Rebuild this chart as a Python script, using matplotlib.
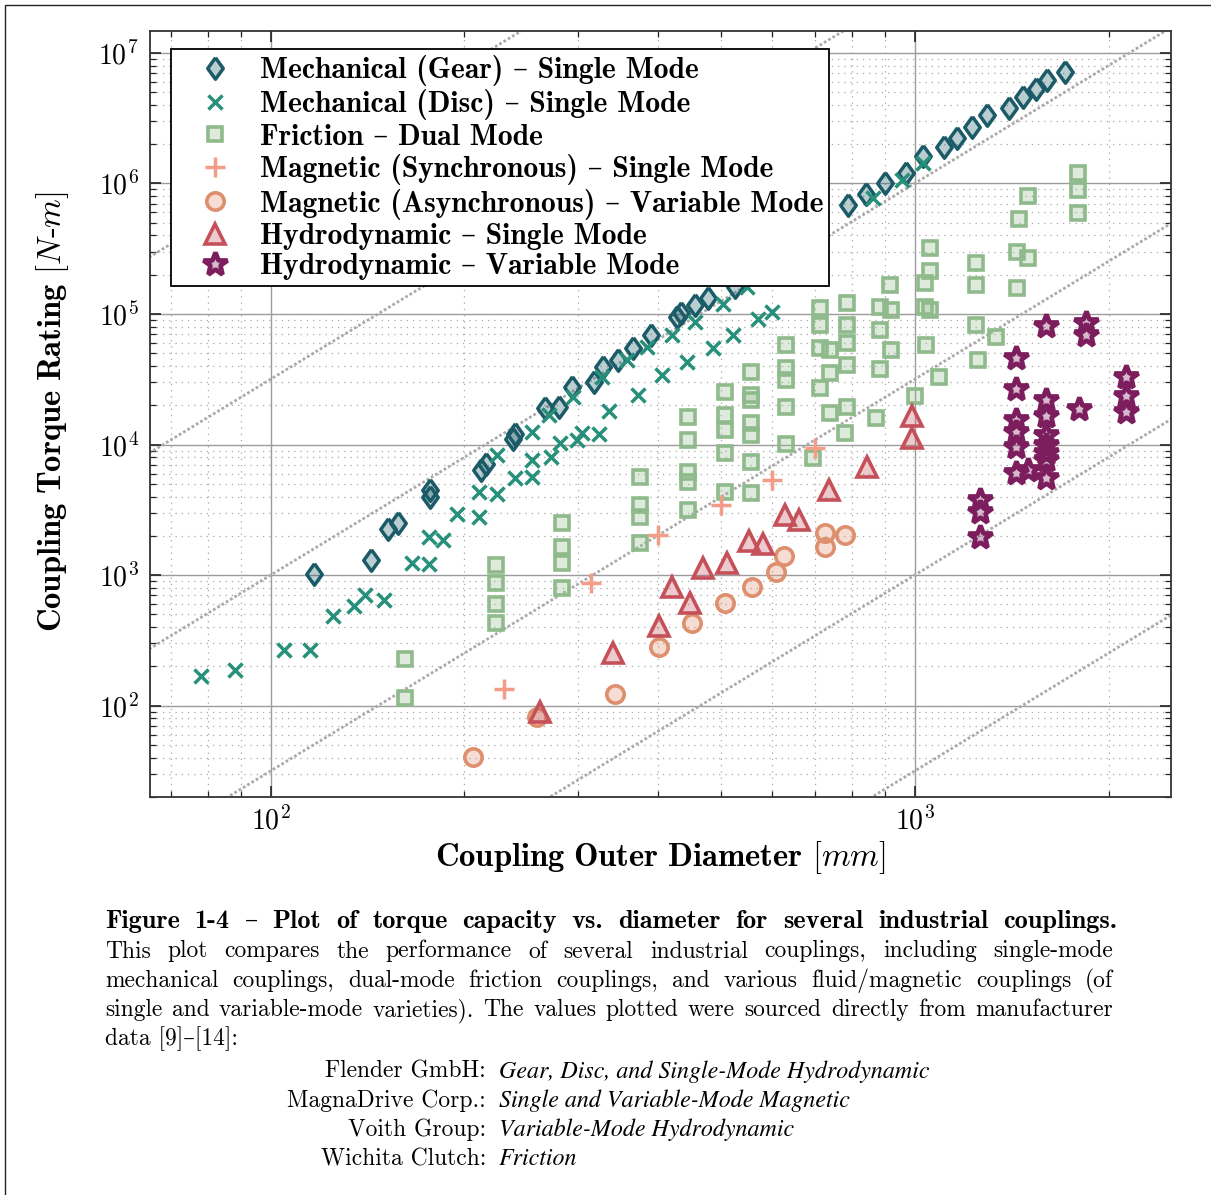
import numpy as np
import matplotlib
matplotlib.use('Agg')
import matplotlib.pyplot as plt
from matplotlib.ticker import LogLocator, FuncFormatter, NullFormatter
from matplotlib.patches import Rectangle
from matplotlib.font_manager import FontProperties
from matplotlib.colors import to_rgb

plt.rcParams['mathtext.fontset'] = 'cm'
plt.rcParams['axes.unicode_minus'] = False
RM = ['cmr10', 'DejaVu Serif']
BF = ['cmb10', 'DejaVu Serif']
IT = ['STIXGeneral', 'DejaVu Serif']

# ─── data: outer diameter [mm] / torque rating [N-m] ─────────────────────────
gear_d = [117, 143, 152, 158, 177, 177, 212, 216, 238, 240, 267, 280, 294, 318,
          328, 346, 366, 390, 427, 434, 456, 478, 526, 787, 839, 898, 968, 1029,
          1109, 1162, 1226, 1293, 1399, 1471, 1541, 1603, 1709]
gear_t = [1020, 1310, 2250, 2500, 4000, 4450, 6400, 7100, 11000, 12000, 19100,
          19500, 27800, 30300, 39100, 44400, 54600, 69100, 95400, 101000, 117000,
          132000, 162000, 683000, 830000, 1.01e6, 1.2e6, 1.62e6, 1.9e6, 2.23e6,
          2.7e6, 3.34e6, 3.78e6, 4.59e6, 5.28e6, 6.19e6, 7.13e6]

disc_d = [78, 88, 105, 115, 125, 135, 140, 150, 166, 176, 176, 185, 195, 211, 211,
          225, 225, 240, 255, 255, 255, 273, 271, 281, 299, 305, 324, 335, 295, 327,
          357, 384, 372, 406, 420, 443, 456, 486, 522, 504, 571, 600, 549, 861, 955,
          1029]
disc_t = [169, 188, 268, 268, 487, 581, 705, 646, 1240, 1220, 1960, 1860, 2940,
          2790, 4340, 4180, 8330, 5550, 5650, 7620, 12490, 8040, 16850, 10290,
          10840, 12270, 12060, 18080, 23150, 32930, 44440, 55880, 23980, 34110,
          69050, 42900, 86840, 54920, 69050, 119300, 91560, 103600, 160900, 773200,
          1.062e6, 1.433e6]

fric_d = [162, 162, 224, 224, 224, 224, 283, 283, 283, 283, 374, 374, 374, 374,
          445, 445, 445, 445, 445, 507, 507, 507, 507, 507,
          558, 558, 558, 558, 558, 558, 558, 632, 632, 632, 632, 632, 695,
          712, 712, 712, 738, 738, 712, 738, 779, 786, 786, 786, 786, 786,
          882, 920, 882, 920, 882, 872, 1043, 1091, 1000, 1247, 1339, 1254,
          1036, 1055, 1792, 1792, 1792, 1499, 1450, 1055, 1055, 1036, 1247, 1247,
          1440, 1499, 917, 1440]
fric_t = [227, 114, 1200, 876, 602, 433, 2500, 1650, 1250, 794, 5680, 3450, 2810,
          1760, 16400, 10800, 6200, 5200, 3160, 25400, 16900, 12900, 8580, 4360,
          36100, 24000, 22000, 14600, 11800, 7400, 4240, 57900, 38400, 31200, 19500,
          10100, 7860, 110600, 82400, 54600, 53000, 35200, 27000, 17400, 12200,
          122000, 82400, 59700, 40700, 19500, 113700, 107300, 75400, 53000, 37700,
          15900, 57900, 32800, 23600, 82400, 66300, 44400, 113700, 107300,
          1.195e6, 890000, 597000, 801000, 531000, 318500, 214500, 171900, 244500,
          166700, 299900, 267000, 166700, 158200]

sync_d = [230, 314, 400, 500, 600, 700]
sync_t = [135, 876, 2030, 3450, 5360, 9370]

async_d = [206, 259, 343, 401, 451, 508, 559, 610, 626, 727, 727, 779]
async_t = [40.6, 82, 122, 283, 428, 609, 808, 1050, 1390, 1650, 2090, 2030]

hsing_d = [262, 340, 401, 420, 448, 469, 512, 553, 582, 629, 661, 736, 842, 992, 992]
hsing_t = [90, 252, 408, 817, 609, 1130, 1230, 1840, 1730, 2890, 2650, 4490, 6770,
           16560, 11170]

hvar_d = [1601, 1843, 1843, 1439, 1439, 1601, 1601, 1799, 2126, 2126, 2126, 1439,
          1439, 1439, 1601, 1601, 1601, 1601, 1439, 1499, 1601, 1261, 1261, 1261]
hvar_t = [80900, 84900, 69000, 45800, 26500, 21950, 16560, 18640, 32760, 23560,
          17860, 15430, 12550, 9640, 11840, 9930, 8580, 7620, 6030, 6390, 5520,
          3770, 3060, 1970]

labels = ['Mechanical (Gear) – Single Mode',
          'Mechanical (Disc) – Single Mode',
          'Friction – Dual Mode',
          'Magnetic (Synchronous) – Single Mode',
          'Magnetic (Asynchronous) – Variable Mode',
          'Hydrodynamic – Single Mode',
          'Hydrodynamic – Variable Mode']

# torque at D = 100 mm for the D^3 guide lines
guide_t100 = [1e6, 10**4.5, 1e3, 10**1.5, 1.0, 10**-1.5]

# ─── styles ───────────────────────────────────────────────────────────────────
wide_diamond = [(0, 1), (0.72, 0), (0, -1), (-0.72, 0), (0, 1)]
series = [
    (gear_d, gear_t, wide_diamond, '#1b5a67', 15.5, 2.5),
    (disc_d, disc_t, 'x', '#26907a', 10.5, 2.5),
    (fric_d, fric_t, 's', '#8fba8c', 10.0, 2.6),
    (sync_d, sync_t, '+', '#f39c87', 14.0, 2.5),
    (async_d, async_t, 'o', '#de8f6e', 12.5, 2.6),
    (hsing_d, hsing_t, '^', '#c5505a', 14.5, 2.6),
    (hvar_d, hvar_t, '*', '#7c1d5d', 18.0, 3.4),
]

W, H = 1211, 1195
fig = plt.figure(figsize=(W / 100, H / 100), dpi=100)
fig.patch.set_facecolor('white')
ax = fig.add_axes([150 / W, 1 - 797 / H, 1021 / W, 766 / H])
ax.set_xscale('log')
ax.set_yscale('log')
ax.set_xlim(65, 2500)
ax.set_ylim(20, 1.47e7)

ax.grid(True, which='major', color='#9c9c9c', lw=1.0, ls='-', zorder=0)
ax.grid(True, which='minor', color='#a8a8a8', lw=0.9, ls=(0, (1, 4)), zorder=0)
ax.set_axisbelow(True)

dd = np.array([60, 3000])
for a in guide_t100:
    ax.plot(dd, a * (dd / 100.0) ** 3, color='#aaaaaa', lw=2.0,
            ls=(0, (1, 0.8)), zorder=1)

for (d, t, m, c, ms, mew), lab in zip(series, labels):
    ax.plot(d, t, ls='none', marker=m, ms=ms, mew=mew, mec=c,
            mfc=to_rgb(c) + (0.3,), label=lab, zorder=3)

ax.yaxis.set_major_locator(LogLocator(base=10, numticks=20))
ax.yaxis.set_minor_locator(LogLocator(base=10, subs=np.arange(2, 10), numticks=40))
ax.xaxis.set_minor_locator(LogLocator(base=10, subs=np.arange(2, 10), numticks=40))
fmt = FuncFormatter(lambda v, _: r'$\mathbf{10^{%d}}$' % round(np.log10(v)))
ax.xaxis.set_major_formatter(fmt)
ax.yaxis.set_major_formatter(fmt)
ax.xaxis.set_minor_formatter(NullFormatter())
ax.yaxis.set_minor_formatter(NullFormatter())
ax.tick_params(which='both', direction='in', top=True, right=True, color='#222222')
ax.tick_params(which='major', length=8, width=1.2, labelsize=20)
ax.tick_params(axis='x', which='major', pad=7)
ax.tick_params(axis='y', which='major', pad=8)
ax.tick_params(which='minor', length=4.5, width=0.9)
for s in ax.spines.values():
    s.set_linewidth(1.3)
    s.set_color('#333333')

ax.set_xlabel(r'$\mathbf{Coupling\ Outer\ Diameter}$ [$\mathit{mm}$]',
              family=RM, fontsize=23.5)
ax.xaxis.set_label_coords(0.4995, -0.055)
ax.set_ylabel(r'$\mathbf{Coupling\ Torque\ Rating}$ [$\mathit{N}$-$\mathit{m}$]',
              family=RM, fontsize=23.5)
ax.yaxis.set_label_coords(-0.077, 0.503)

leg = ax.legend(loc='upper left', bbox_to_anchor=(0.0206, 0.9765),
                prop=FontProperties(family=BF, size=21.3), frameon=True,
                fancybox=False, edgecolor='black', framealpha=1,
                borderaxespad=0, handlelength=2.6, handletextpad=0.2,
                borderpad=0.2, labelspacing=0.115)
leg.get_frame().set_linewidth(1.3)
leg.set_zorder(5)

# ─── caption ──────────────────────────────────────────────────────────────────
renderer = fig.canvas.get_renderer()


def width_of(s, fam, size, **kw):
    t = fig.text(0, 0, s, family=fam, fontsize=size, **kw)
    w = t.get_window_extent(renderer).width
    t.remove()
    return w


def justify(text, y, x0, x1, fam, size):
    ts = [fig.text(0, 1 - y / H, w, family=fam, fontsize=size, va='baseline')
          for w in text.split(' ')]
    ws = [t.get_window_extent(renderer).width for t in ts]
    gap = (x1 - x0 - sum(ws)) / (len(ws) - 1)
    x = x0
    for t, w in zip(ts, ws):
        t.set_x(x / W)
        x += w + gap


cap_head = 'Figure 1-4 – Plot of torque capacity vs. diameter for several industrial couplings.'
cap_body = ['This plot compares the performance of several industrial couplings, including single-mode',
            'mechanical couplings, dual-mode friction couplings, and various fluid/magnetic couplings (of',
            'single and variable-mode varieties). The values plotted were sourced directly from manufacturer']
cap_last = 'data [9]–[14]:'
src_names = ['Flender GmbH:', 'MagnaDrive Corp.:', 'Voith Group:', 'Wichita Clutch:']
src_items = ['Gear, Disc, and Single-Mode Hydrodynamic',
             'Single and Variable-Mode Magnetic',
             'Variable-Mode Hydrodynamic',
             'Friction']

# size the caption font from the width of one source name, keep >= 6 px gaps
cs = 16.0 * 198 / width_of(src_names[1], RM, 16.0)
for line in cap_body:
    words = line.split(' ')
    need = sum(width_of(w, RM, cs) for w in words) + 6 * (len(words) - 1)
    if need > 1008:
        cs *= 1008 / need
ics = 16.0 * 432 / width_of(src_items[0], IT, 16.0, style='italic')
ics = min(ics, cs * 1.05)

justify(cap_head, 928, 105, 1117, BF, cs * 1.12)
for i, line in enumerate(cap_body):
    justify(line, 957.5 + 29.4 * i, 105, 1113, RM, cs)
fig.text(105 / W, 1 - 1045.5 / H, cap_last, family=RM, fontsize=cs, va='baseline')
for i, (n, it) in enumerate(zip(src_names, src_items)):
    yb = 1 - (1078 + 29 * i) / H
    fig.text(486 / W, yb, n, family=RM, fontsize=cs, va='baseline', ha='right')
    fig.text(499 / W, yb, it, family=IT, style='italic', fontsize=ics,
             va='baseline')

fig.add_artist(Rectangle((5 / W, -0.02), 1.2, 1.02 - 4.5 / H,
                         transform=fig.transFigure, fill=False,
                         ec='#222222', lw=1.0))

fig.savefig('out.png', dpi=100, facecolor='white')
